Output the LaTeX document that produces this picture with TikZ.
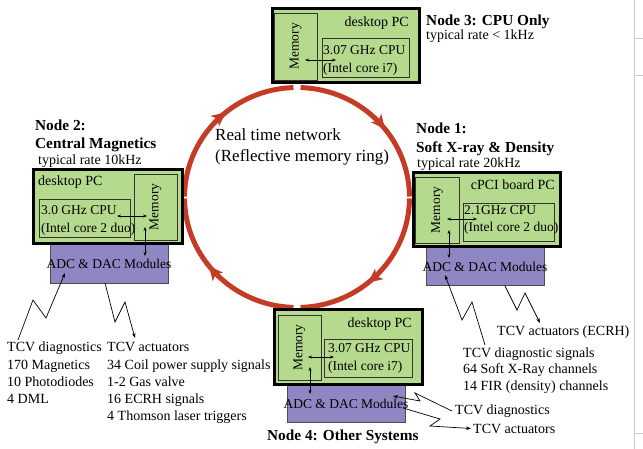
\documentclass[tikz,border=0pt]{standalone}
\usepackage{fontspec}
\setmainfont{Liberation Serif}
\usetikzlibrary{arrows.meta,decorations.markings,fit}
\definecolor{pcgreen}{RGB}{181,218,141}
\definecolor{adcpurple}{RGB}{143,134,196}
\definecolor{ringred}{RGB}{196,60,38}
\begin{document}
\begin{tikzpicture}[x=1pt,y=-1pt,
  outerbox/.style={draw=black, line width=3pt, fill=pcgreen, inner sep=0pt},
  innerbox/.style={draw=black!80, line width=0.8pt, inner sep=0pt},
  adcbox/.style={draw=black!70, line width=0.8pt, fill=adcpurple, inner sep=0pt},
  txt/.style={font=\fontsize{14}{17}\selectfont, inner sep=0pt, anchor=base west},
  boxtxt/.style={font=\fontsize{13.5}{16}\selectfont, inner sep=0pt, anchor=base west},
  ttl/.style={font=\fontsize{15.3}{18}\selectfont\bfseries, inner sep=0pt, anchor=base west},
  ringarc/.style={draw=ringred, line width=5pt, postaction={decorate},
    decoration={markings, mark=at position 0.57 with {\arrow[ringred]{Stealth[length=14pt,width=13pt,inset=3.5pt]}}}},
  dbl/.style={{Stealth[length=4pt,width=3pt]}-{Stealth[length=4pt,width=3pt]}, line width=0.6pt},
  zig/.style={-{Stealth[length=5pt,width=3.5pt]}, line width=0.7pt}]
\useasboundingbox (0,0) rectangle (643,449);
\fill[white] (0,0) rectangle (643,449);
% page edge artefact
\draw[black!20, line width=0.6pt] (634,0) -- (634,449);
\draw[black!20, line width=0.5pt] (634,38) -- (643,38) (634,75) -- (643,75) (634,433) -- (643,433);

% ring
\coordinate (C) at (297,197.5);
\draw[ringarc] (C) ++(-88.2:112.5 and 110) arc[start angle=-88.2, end angle=-0.5, x radius=112.5, y radius=110];
\draw[ringarc] (C) ++(0.5:112.5 and 110) arc[start angle=0.5, end angle=88.2, x radius=112.5, y radius=110];
\draw[ringarc] (C) ++(91.8:112.5 and 110) arc[start angle=91.8, end angle=179.5, x radius=112.5, y radius=110];
\draw[ringarc] (C) ++(180.5:112.5 and 110) arc[start angle=180.5, end angle=268.2, x radius=112.5, y radius=110];
\node[font=\fontsize{17}{20}\selectfont, inner sep=0pt, anchor=base west] (rt1) at (215,140.5) {Real time network};
\node[font=\fontsize{17}{20}\selectfont, inner sep=0pt, anchor=base west] (rt2) at (215,161.5) {(Reflective memory ring)};

% ---------- Node 3
\node[outerbox, fit={(272,9) (419,83)}] (n3) {};
\node[innerbox, fit={(274.5,13) (317,80)}] (m3) {};
\node[innerbox, fit={(322,38) (409,77)}] (c3) {};
\node[boxtxt, rotate=90, anchor=center] (m3t) at (m3.center) {Memory};
\node[txt, anchor=base east] (d3) at (409,27) {desktop PC};
\node[boxtxt] (c3a) at (323,54.5) {3.07 GHz CPU};
\node[boxtxt] (c3b) at (323,72.5) {(Intel core i7)};
\coordinate (h3a) at (305,60); \coordinate (h3b) at (336,60);
\draw[dbl] (h3a) -- (h3b);
\node[ttl] (t3) at (426,26) {Node 3: CPU Only};
\node[txt] (r3) at (426,39.5) {typical rate < 1kHz};

% ---------- Node 2
\node[adcbox, fit={(50,244) (168,283)}] (a2) {};
\node[outerbox, fit={(33,170) (182,244)}] (n2) {};
\node[innerbox, fit={(134,174) (177,240)}] (m2) {};
\node[innerbox, fit={(39,199) (130,237)}] (c2) {};
\node[boxtxt, rotate=90, anchor=center] (m2t) at (m2.center) {Memory};
\node[txt] (d2) at (38,186) {desktop PC};
\node[boxtxt] (c2a) at (41,214.5) {3.0 GHz CPU};
\node[boxtxt] (c2b) at (41,232.5) {(Intel core 2 duo)};
\node[boxtxt, anchor=center] (a2t) at (109,263.5) {ADC \& DAC Modules};
\coordinate (h2a) at (117,216); \coordinate (h2b) at (147,216);
\coordinate (v2a) at (145,227); \coordinate (v2b) at (145,256);
\draw[dbl] (h2a) -- (h2b);
\draw[dbl] (v2a) -- (v2b);
\node[ttl] (t2a) at (35,130.5) {Node 2:};
\node[ttl] (t2b) at (35,149) {Central Magnetics};
\node[txt] (r2) at (38,165) {typical rate 10kHz};

% ---------- Node 1
\node[adcbox, fit={(426,247) (544,285)}] (a1) {};
\node[outerbox, fit={(413,173) (560,247)}] (n1) {};
\node[innerbox, fit={(415.5,177) (459,243)}] (m1) {};
\node[innerbox, fit={(463,203) (554,241)}] (c1) {};
\node[boxtxt, rotate=90, anchor=center] (m1t) at (m1.center) {Memory};
\node[txt, anchor=base east] (d1) at (555,190) {cPCI board PC};
\node[boxtxt] (c1a) at (464,214.5) {2.1GHz CPU};
\node[boxtxt] (c1b) at (464,231.5) {(Intel core 2 duo)};
\node[boxtxt, anchor=center] (a1t) at (485,267) {ADC \& DAC Modules};
\coordinate (h1a) at (447,219); \coordinate (h1b) at (477,219);
\coordinate (v1a) at (449,230); \coordinate (v1b) at (449,258);
\draw[dbl] (h1a) -- (h1b);
\draw[dbl] (v1a) -- (v1b);
\node[ttl] (t1a) at (416,134) {Node 1:};
\node[ttl] (t1b) at (416,153) {Soft X-ray \& Density};
\node[txt] (r1) at (417,167.5) {typical rate 20kHz};

% ---------- Node 4
\node[adcbox, fit={(287,384) (405,422)}] (a4) {};
\node[outerbox, fit={(274,310) (422,384)}] (n4) {};
\node[innerbox, fit={(278,315) (321,380)}] (m4) {};
\node[innerbox, fit={(324,339) (412,377)}] (c4) {};
\node[boxtxt, rotate=90, anchor=center] (m4t) at (m4.center) {Memory};
\node[txt, anchor=base east] (d4) at (412,327) {desktop PC};
\node[boxtxt] (c4a) at (328,352.5) {3.07 GHz CPU};
\node[boxtxt] (c4b) at (328,370.5) {(Intel core i7)};
\node[boxtxt, anchor=center] (a4t) at (346,404) {ADC \& DAC Modules};
\coordinate (h4a) at (308,357); \coordinate (h4b) at (334,357);
\coordinate (v4a) at (310,367); \coordinate (v4b) at (310,394);
\draw[dbl] (h4a) -- (h4b);
\draw[dbl] (v4a) -- (v4b);
\node[ttl] (t4) at (267,440) {Node 4: Other Systems};

% ---------- signal texts
\node[txt] (l1) at (7,352) {TCV diagnostics};
\node[txt] (l2) at (7,369) {170 Magnetics};
\node[txt] (l3) at (7,386) {10 Photodiodes};
\node[txt] (l4) at (7,403) {4 DML};
\node[txt] (k1) at (107,352) {TCV actuators};
\node[txt] (k2) at (107,369) {34 Coil power supply signals};
\node[txt] (k3) at (107,386) {1-2 Gas valve};
\node[txt] (k4) at (107,403) {16 ECRH signals};
\node[txt] (k5) at (107,420) {4 Thomson laser triggers};

\node[txt] (e1) at (497,335) {TCV actuators (ECRH)};
\node[txt] (s1) at (463,357) {TCV diagnostic signals};
\node[txt] (s2) at (463,373.5) {64 Soft X-Ray channels};
\node[txt] (s3) at (463,390) {14 FIR (density) channels};

\node[txt] (o1) at (455,414) {TCV diagnostics};
\node[txt] (o2) at (473,433) {TCV actuators};

% ---------- zigzag signal connectors
\coordinate (z2a) at (18,340); \coordinate (z2ap) at (65,273);
\draw[zig] (z2a) -- (33,300) -- (46,318) -- (z2ap);
\coordinate (z2b) at (105,283); \coordinate (z2bp) at (135,338);
\draw[zig] (z2b) -- (115,322) -- (125,302) -- (z2bp);

\coordinate (z1a) at (485,345); \coordinate (z1ap) at (445,275);
\draw[zig] (z1a) -- (472,302) -- (462,320) -- (z1ap);
\coordinate (z1b) at (505,286); \coordinate (z1bp) at (540,323);
\draw[zig] (z1b) -- (517,310) -- (525,293) -- (z1bp);

\coordinate (z4a) at (452,411); \coordinate (z4ap) at (393,396);
\draw[zig] (z4a) -- (415,393) -- (420,401) -- (z4ap);
\coordinate (z4b) at (403,408); \coordinate (z4bp) at (471,428.5);
\draw[zig] (z4b) -- (440,419) -- (430,426) -- (z4bp);
\end{tikzpicture}
\end{document}
